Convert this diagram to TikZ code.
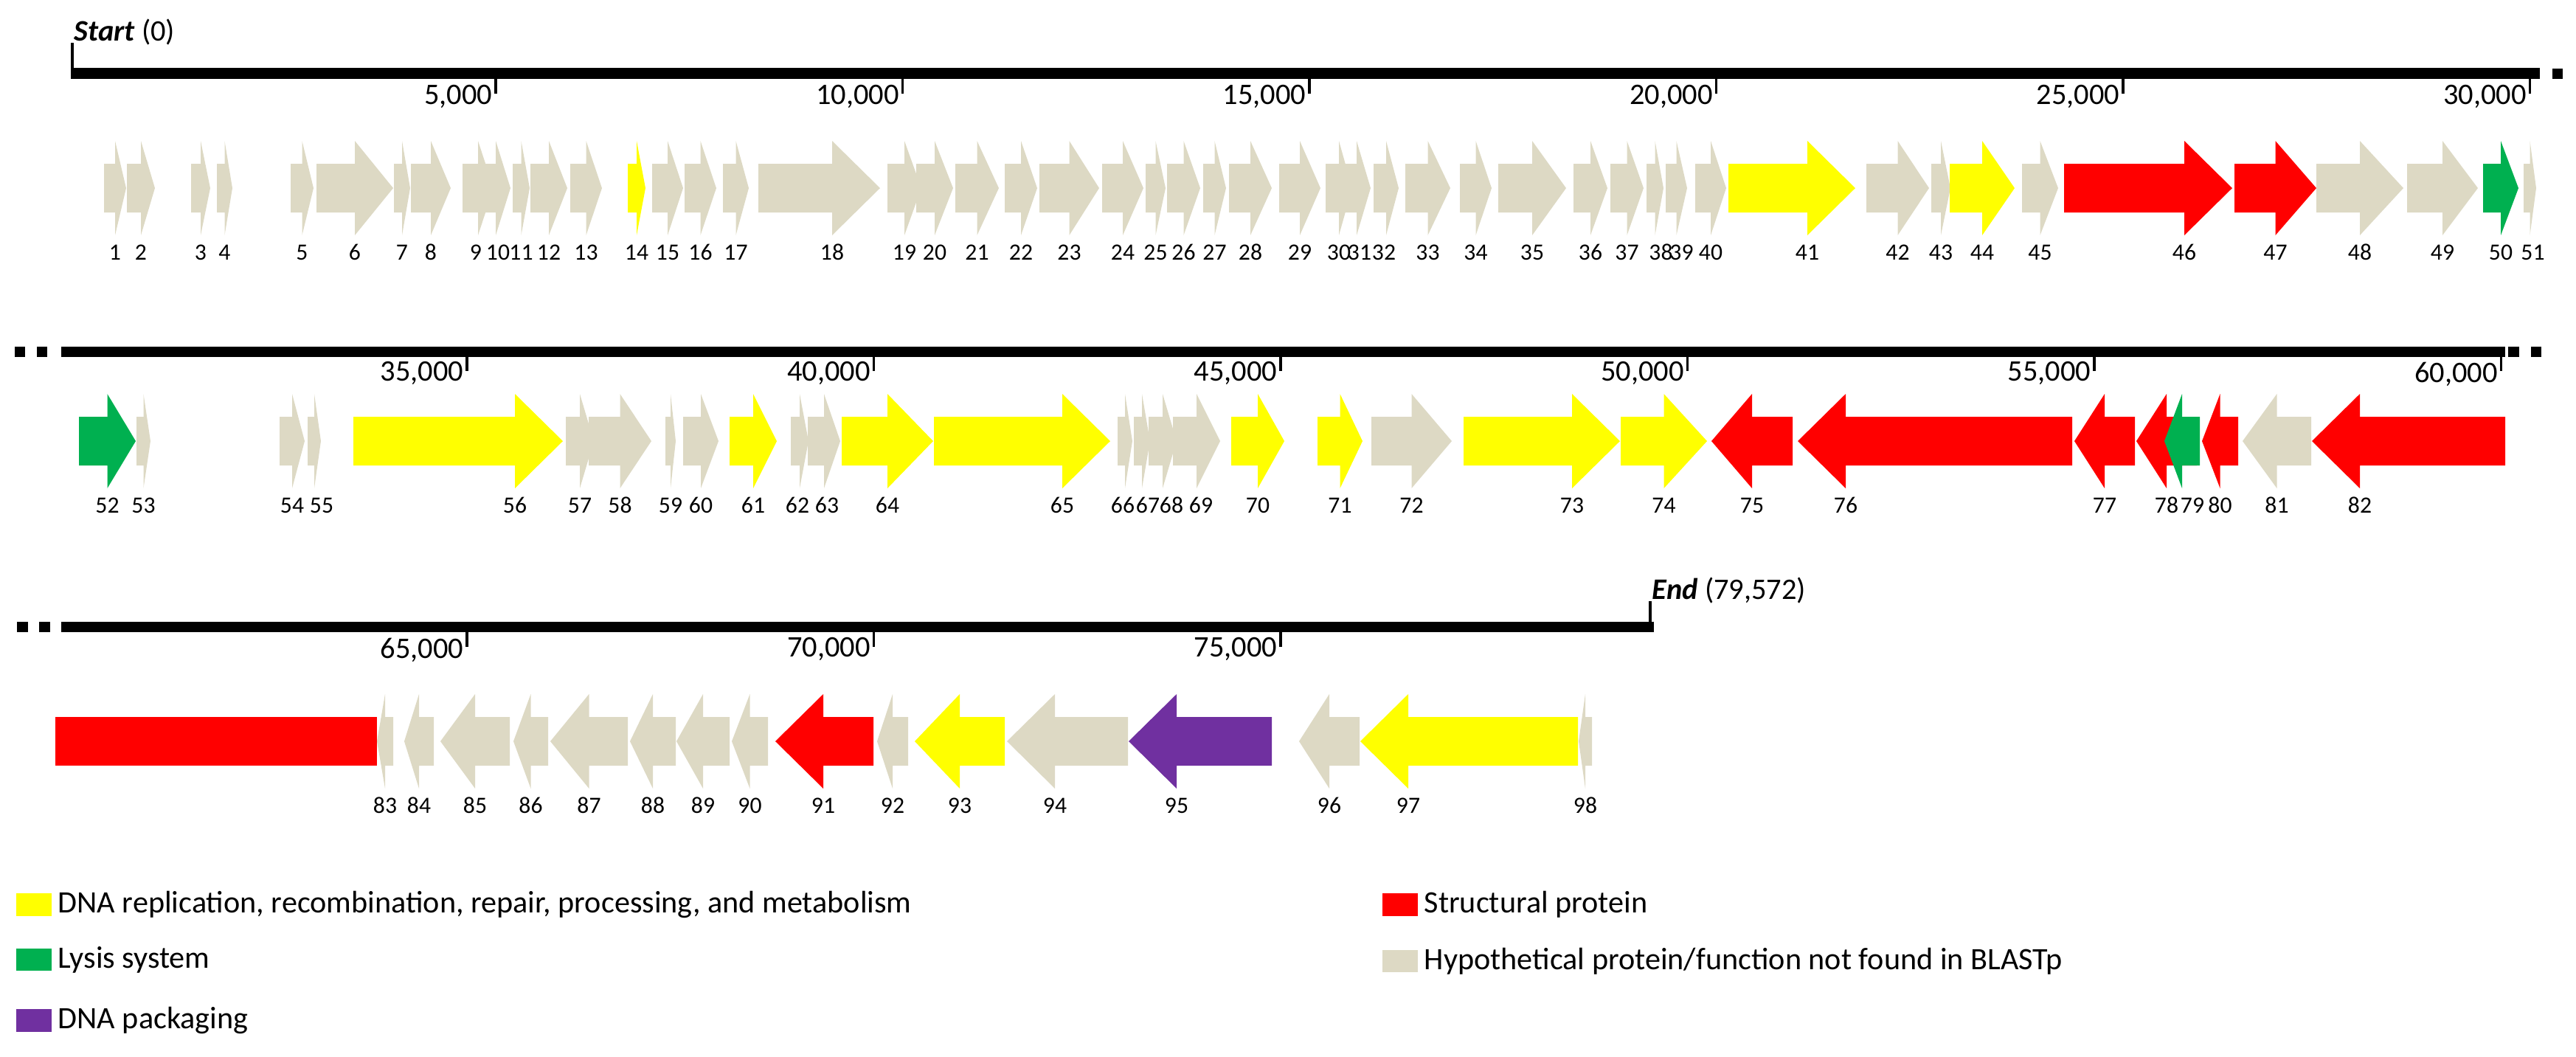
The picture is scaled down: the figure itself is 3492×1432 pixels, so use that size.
\documentclass[tikz,border=0pt]{standalone}
\usepackage{fontspec}
\setmainfont{Carlito}
\definecolor{dnarep}{HTML}{FFFF00}
\definecolor{struct}{HTML}{FF0000}
\definecolor{lysis}{HTML}{00B050}
\definecolor{packing}{HTML}{7030A0}
\definecolor{hypo}{HTML}{DDD9C4}
\def\rowA{255}
\def\rowB{598}
\def\rowC{1005}
\tikzset{
  genenum/.style={font=\fontsize{9}{9}\selectfont, inner sep=0pt},
  ticklbl/.style={font=\fontsize{11.5}{12}\selectfont, inner sep=0pt, anchor=north east},
  tickline/.style={line width=0.9pt},
  endlbl/.style={font=\fontsize{11.5}{12}\selectfont, inner sep=0pt, anchor=base west},
  leglbl/.style={font=\fontsize{12}{13}\selectfont, inner sep=0pt, anchor=west}
}
% gene arrow: [label shift] row y, tail x, tip x, colour, number
\newcommand{\gene}[6][0]{%
  \pgfmathsetmacro{\gHead}{min(0.5*abs(#4-#3),65)*sign(#4-#3)}
  \pgfmathsetmacro{\gBase}{#4-\gHead}
  \fill[#5] (#3,#2-33) -- (\gBase,#2-33) -- (\gBase,#2-64) -- (#4,#2)
    -- (\gBase,#2+64) -- (\gBase,#2+33) -- (#3,#2+33) -- cycle;
  \node[genenum] (g#6) at ({\gBase+(#1)},{#2+87}) {#6};
}

\begin{document}
\begin{tikzpicture}[x=0.01cm, y=-0.01cm]
  \useasboundingbox (0,0) rectangle (3492,1432);

  % ruler, first line
  \fill (98,92) rectangle (3443,107);
  \fill (3460,93) rectangle (3474,107);
  \draw[line width=1.3pt] (98,58) -- (98,107);
  \node[endlbl] (start) at (100,55) {\textbf{\textit{Start}} (0)};
  \foreach \k/\x in {5/672,10/1223.5,15/1775,20/2326.5,25/2878,30/3429.5} {
    \draw[tickline] (\x,107) -- (\x,127);
    \node[ticklbl] (tick\k) at (\x-4,115) {\k,000};
  }

  % ruler, second line
  \fill (20,470) rectangle (34,484);
  \fill (50,470) rectangle (64,484);
  \fill (83,470) rectangle (3396,484);
  \fill (3400,470) rectangle (3415,484);
  \fill (3431,470) rectangle (3445,484);
  \foreach \k/\x in {35/633,40/1184.5,45/1736,50/2287.5,55/2839,60/3390.5} {
    \draw[tickline] (\x,484) -- (\x,503);
    \node[ticklbl] (tick\k) at (\x-4,490) {\k,000};
  }

  % ruler, third line
  \fill (23,843) rectangle (38,857);
  \fill (53,843) rectangle (68,857);
  \fill (83,843) rectangle (2242,857);
  \draw[line width=1.3pt] (2237,815) -- (2237,857);
  \node[endlbl] (end) at (2239,812) {\textbf{\textit{End}} (79,572)};
  \foreach \k/\x in {65/633,70/1184.5,75/1736} {
    \draw[tickline] (\x,857) -- (\x,877);
    \node[ticklbl] (tick\k) at (\x-4,864) {\k,000};
  }

  % genes, first line
  \foreach \n/\a/\b/\c/\s in {1/141/171/hypo/0, 2/172/210/hypo/0, 3/259/285/hypo/0,
      4/294/315/hypo/0, 5/394/425/hypo/0, 6/429/533/hypo/0, 7/534/556/hypo/0,
      8/557/611/hypo/0, 9/627/669/hypo/-3, 10/652/692/hypo/3, 11/695/718/hypo/0,
      12/719/769/hypo/0, 13/773/816/hypo/0, 14/851/875/dnarep/0, 15/884/926/hypo/0,
      16/928/971/hypo/0, 17/980/1015/hypo/0, 18/1028/1193/hypo/0, 19/1203/1249/hypo/0,
      20/1242/1292/hypo/0, 21/1295/1354/hypo/0, 22/1362/1406/hypo/0, 23/1409/1490/hypo/0,
      24/1494/1550/hypo/0, 25/1553/1580/hypo/0, 26/1582/1627/hypo/0, 27/1631/1662/hypo/0,
      28/1666/1724/hypo/0, 29/1734/1790/hypo/0, 30/1797/1833/hypo/0, 31/1820/1858/hypo/4,
      32/1862/1896/hypo/-3, 33/1905/1966/hypo/0, 34/1979/2022/hypo/0, 35/2031/2123/hypo/0,
      36/2133/2179/hypo/0, 37/2183/2228/hypo/0, 38/2232/2255/hypo/8, 39/2258/2287/hypo/7,
      40/2298/2340/hypo/0, 41/2343/2515/dnarep/0, 42/2530/2615/hypo/0, 43/2618/2644/hypo/0,
      44/2643/2731/dnarep/0, 45/2741/2790/hypo/0, 46/2798/3026/struct/0, 47/3029/3140/struct/0,
      48/3140/3258/hypo/0, 49/3263/3359/hypo/0, 50/3366/3414/lysis/0, 51/3421/3438/hypo/4}
    \gene[\s]{\rowA}{\a}{\b}{\c}{\n};

  % genes, second line
  \foreach \n/\a/\b/\c/\s in {52/107/184/lysis/0, 53/185/204/hypo/0, 54/379/413/hypo/0,
      55/417/435/hypo/10, 56/479/763/dnarep/0, 57/767/805/hypo/0, 58/798/883/hypo/0,
      59/902/916/hypo/0, 60/926/974/hypo/0, 61/989/1053/dnarep/0, 62/1072/1096/hypo/-3,
      63/1095/1139/hypo/4, 64/1141/1265/dnarep/0, 65/1266/1505/dnarep/0, 66/1515/1535/hypo/-3,
      67/1537/1559/hypo/8, 68/1557/1595/hypo/12, 69/1590/1654/hypo/6, 70/1669/1741/dnarep/0,
      71/1786/1847/dnarep/0, 72/1859/1968/hypo/0, 73/1984/2196/dnarep/0, 74/2197/2314/dnarep/0,
      75/2430/2320/struct/0, 76/2809/2437/struct/0, 77/2894/2812/struct/0, 78/2978/2896/struct/0,
      79/2982/2934/lysis/14, 80/3034/2985/struct/0, 81/3133/3040/hypo/0, 82/3396/3134/struct/0}
    \gene[\s]{\rowB}{\a}{\b}{\c}{\n};

  % genes, third line
  \fill[struct] (75,\rowC-33) rectangle (511,\rowC+33);
  \foreach \n/\a/\b/\c/\s in {83/533/511/hypo/0, 84/588/548/hypo/0, 85/691/597/hypo/0,
      86/743/696/hypo/0, 87/851/746/hypo/0, 88/916/854/hypo/0, 89/989/917/hypo/0,
      90/1041/992/hypo/0, 91/1184/1051/struct/0, 92/1231/1189/hypo/0, 93/1362/1240/dnarep/0,
      94/1529/1365/hypo/0, 95/1724/1530/packing/0, 96/1843/1761/hypo/0, 97/2139/1844/dnarep/0,
      98/2158/2140/hypo/0}
    \gene[\s]{\rowC}{\a}{\b}{\c}{\n};

  % legend
  \fill[dnarep] (22,1211) rectangle (70,1242);
  \node[leglbl] (legrep) at (78,1226) {DNA replication, recombination, repair, processing, and metabolism};
  \fill[lysis] (22,1286) rectangle (70,1316);
  \node[leglbl] (leglys) at (78,1301) {Lysis system};
  \fill[packing] (22,1368) rectangle (70,1399);
  \node[leglbl] (legpack) at (78,1383) {DNA packaging};
  \fill[struct] (1874,1211) rectangle (1922,1242);
  \node[leglbl] (legstruct) at (1930,1226) {Structural protein};
  \fill[hypo] (1874,1288) rectangle (1922,1318);
  \node[leglbl] (leghypo) at (1930,1303) {Hypothetical protein/function not found in BLASTp};
\end{tikzpicture}
\end{document}
